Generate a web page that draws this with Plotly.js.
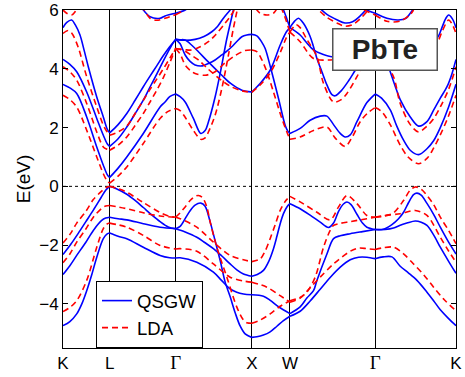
<!DOCTYPE html>
<html>
<head>
<meta charset="utf-8">
<script src="https://cdn.plot.ly/plotly-3.0.1.min.js"></script>
<style>html,body{margin:0;padding:0;background:#fff;}#chart{width:465px;height:377px;}</style>
</head>
<body>
<div id="chart"></div>
<script>
// High-symmetry points along the path (units of 2pi/a)
const kTicks = [0, 0.612, 1.478, 2.478, 2.978, 4.096, 5.157];
const kLabels = ['K', 'L', 'Γ', 'X', 'W', 'Γ', 'K'];
const eTicks = [-4, -2, 0, 2, 4, 6];

// ---------- QSGW valence bands ----------
const qV1k = [0,0.1,0.2,0.3,0.4,0.5,0.56,0.612, 0.7,0.837,0.946,1.054,1.164,1.274,1.38,1.478, 1.537,1.603,1.668,1.733,1.808,1.865,1.93,1.996,2.062,2.127,2.193,2.259,2.324,2.39,2.478, 2.544,2.63,2.718,2.807,2.893,2.978, 3.112,3.243,3.375,3.506,3.638,3.769,3.879,3.988,4.096, 4.2,4.316,4.425,4.535,4.645,4.776,4.863,4.951,5.06,5.157];
const qV1e = [-2.32,-1.98,-1.6,-1.2,-0.8,-0.38,-0.13,0, -0.08,-0.27,-0.48,-0.72,-0.97,-1.2,-1.38,-1.44, -1.36,-1.1,-0.83,-0.64,-0.57,-0.68,-1.2,-1.85,-2.52,-3.25,-3.75,-4.3,-4.75,-5.02,-5.14, -5.12,-5.06,-4.95,-4.76,-4.57,-4.42, -4.25,-3.9,-3.5,-3.1,-2.75,-2.5,-2.41,-2.41,-2.46, -2.4,-2.4,-2.72,-2.95,-3.2,-3.6,-3.89,-4.2,-4.5,-4.74];
const qV2k = [0,0.09,0.18,0.3,0.398,0.508,0.56,0.612, 0.723,0.837,1.054,1.274,1.478, 1.603,1.756,1.865,1.974,2.084,2.193,2.281,2.368,2.478, 2.55,2.63,2.7,2.762,2.807,2.85,2.893,2.938,2.978, 3.112,3.243,3.375,3.484,3.55,3.616,3.68,3.726,3.78,3.857,3.93,3.988,4.096, 4.2,4.316,4.403,4.469,4.535,4.6,4.645,4.7,4.776,4.863,4.951,5.06,5.157];
const qV2e = [-3.0,-2.7,-2.35,-1.9,-1.5,-1.16,-1.08,-1.05, -1.1,-1.14,-1.27,-1.39,-1.44, -1.55,-1.73,-1.92,-2.12,-2.37,-2.64,-2.84,-2.98,-3.06, -3.0,-2.86,-2.55,-2.12,-1.7,-1.27,-0.93,-0.7,-0.59, -0.76,-0.98,-1.22,-1.4,-1.25,-0.85,-0.6,-0.53,-0.62,-0.95,-1.25,-1.39,-1.47, -1.46,-1.3,-1.1,-0.88,-0.55,-0.28,-0.23,-0.3,-0.58,-0.95,-1.39,-1.9,-2.3];
const qV3k = [0,0.09,0.18,0.25,0.311,0.38,0.443,0.529,0.58,0.612, 0.723,0.837,1.054,1.274,1.4,1.478, 1.537,1.756,1.974,2.08,2.193,2.28,2.368,2.478, 2.63,2.72,2.807,2.89,2.978, 3.112,3.2,3.287,3.332,3.463,3.55,3.638,3.769,3.93,4.096, 4.228,4.337,4.425,4.513,4.622,4.7,4.776,4.863,4.951,5.06,5.157];
const qV3e = [-4.74,-4.6,-4.34,-3.98,-3.55,-2.98,-2.41,-1.78,-1.62,-1.59, -1.7,-1.78,-2.07,-2.35,-2.43,-2.44, -2.43,-2.58,-2.92,-3.2,-3.49,-3.6,-3.66,-3.69, -3.74,-3.88,-4.06,-4.2,-4.33, -4.1,-3.8,-3.55,-3.2,-2.3,-1.78,-1.68,-1.61,-1.54,-1.47, -1.47,-1.42,-1.32,-1.25,-1.18,-1.22,-1.33,-1.65,-2.07,-2.55,-2.96];

// ---------- QSGW conduction bands ----------
const qC1k = [0,0.09,0.18,0.311,0.443,0.529,0.58,0.612, 0.723,0.837,1.054,1.274,1.339,1.4,1.478, 1.537,1.603,1.711,1.808,1.865,1.908,1.996,2.062,2.15,2.236,2.26];
const qC1e = [3.47,3.35,3.16,2.36,1.34,0.72,0.4,0.3, 0.62,1.0,1.8,2.7,2.87,3.05,3.14, 3.05,2.87,2.31,1.8,1.9,2.19,3.04,3.84,5.03,6.0,6.3];
const qC2k = [0,0.09,0.18,0.311,0.443,0.529,0.58,0.612, 0.723,0.837,0.946,1.054,1.142,1.23,1.317,1.4,1.45,1.478];
const qC2e = [4.32,4.15,3.9,3.21,2.31,1.74,1.45,1.36, 1.62,2.02,2.47,2.93,3.38,3.82,4.27,4.68,4.9,5.0];
const qC3k = [0,0.05,0.114,0.16,0.223,0.28,0.332,0.443,0.529,0.58,0.612, 0.723,0.837,0.946,1.054,1.142,1.23,1.317,1.4,1.478];
const qC3e = [5.4,5.58,5.66,5.5,5.15,4.6,4.07,3.04,2.36,1.95,1.82, 2.1,2.48,2.93,3.39,3.75,4.1,4.45,4.75,5.0];
const qAk = [1.478,1.6,1.733,1.85,1.953,2.03,2.105,2.193,2.25];
const qAe = [5.0,4.97,5.0,5.1,5.26,5.45,5.72,6.0,6.2];
const qDk = [1.478,1.537,1.603,1.69,1.777,1.9,2.084,2.2,2.347,2.478];
const qDe = [5.0,4.99,4.98,4.8,4.58,4.25,3.78,3.5,3.27,3.21];
const qUk = [1.478,1.537,1.603,1.668,1.733,1.83,1.908,1.996,2.084,2.15,2.215,2.281,2.347,2.412,2.478];
const qUe = [5.0,4.85,4.47,4.25,4.13,4.1,4.18,4.3,4.47,4.6,4.75,4.93,5.09,5.15,5.17];
const qEk = [2.478,2.544,2.61,2.653,2.727,2.828,2.915,2.95,2.978, 3.112,3.243,3.375,3.463,3.55,3.638,3.703,3.769,3.857,3.988,4.096, 4.18,4.294,4.38,4.469,4.56,4.666,4.776,4.863,4.951,5.06,5.157];
const qEe = [5.17,5.12,4.9,4.69,4.01,2.99,2.08,1.88,1.8, 1.97,2.25,2.39,2.39,2.1,1.8,1.68,1.75,2.2,2.85,3.14, 3.0,2.6,2.05,1.57,1.22,1.08,1.28,1.55,2.0,2.7,3.47];
const qX1k = [2.478,2.587,2.718,2.85,2.93,2.978];
const qX1e = [3.21,3.5,3.95,4.81,5.25,5.4];
const qX2k = [2.87,2.893,2.94,2.978];
const qX2e = [6.1,6.0,5.68,5.4];
const qPk = [2.978,3.04,3.09,3.155,3.243,3.287,3.332,3.397,3.463,3.529,3.572,3.65,3.75,3.835,3.95,4.096];
const qPe = [5.4,5.62,5.72,5.55,5.1,4.75,4.35,3.9,3.45,3.12,3.08,3.25,3.6,3.95,4.4,5.0];
const qQk = [2.978,3.112,3.2,3.287,3.4,3.529,3.7,3.9,4.096];
const qQe = [5.4,5.15,4.88,4.64,4.5,4.41,4.5,4.75,5.0];
const qSk = [4.096,4.2,4.294,4.36,4.425,4.557,4.666,4.776,4.863,4.951,5.039,5.1,5.157];
const qSe = [5.0,4.6,3.9,3.4,2.95,2.36,2.05,2.2,2.59,3.0,3.39,3.8,4.32];
const qRk = [4.096,4.4,4.7,4.85,4.924,4.98,5.02,5.06,5.11,5.157];
const qRe = [5.0,4.7,4.7,4.85,5.1,5.45,5.7,5.83,5.7,5.4];
const qTk = [1.03,1.054,1.142,1.274,1.339,1.478,1.603,1.65];
const qTe = [6.1,6.0,5.77,5.72,5.8,5.89,6.0,6.1];
const qT2k = [3.95,4.031,4.096,4.25,4.4,4.5,4.557,4.6];
const qT2e = [6.05,5.95,5.89,5.72,5.66,5.72,5.89,6.05];
const qT3k = [3.375,3.463,3.6,3.7,3.8,3.9,3.99];
const qT3e = [6.05,5.85,5.66,5.56,5.6,5.8,6.05];

// ---------- LDA valence bands ----------
const dV1k = [0,0.1,0.18,0.3,0.398,0.5,0.56,0.612, 0.723,0.837,1.054,1.274,1.4,1.478, 1.537,1.603,1.668,1.733,1.777,1.83,1.887,1.93,2.018,2.15,2.281,2.368,2.412,2.478, 2.587,2.718,2.85,2.978, 3.112,3.2,3.309,3.419,3.506,3.55,3.638,3.769,3.988,4.096, 4.2,4.337,4.469,4.55,4.622,4.7,4.776,4.863,4.951,5.06,5.157];
const dV1e = [-1.93,-1.6,-1.25,-0.85,-0.45,-0.18,-0.05,0, -0.08,-0.2,-0.55,-0.89,-1.02,-1.05, -0.9,-0.7,-0.48,-0.34,-0.31,-0.38,-0.7,-1.2,-2.07,-3.09,-4.11,-4.55,-4.64,-4.66, -4.55,-4.34,-4.08,-3.89, -3.78,-3.6,-3.09,-2.07,-1.5,-1.33,-1.26,-1.2,-1.1,-1.05, -1.02,-0.9,-0.48,-0.15,-0.02,-0.1,-0.31,-0.62,-1.05,-1.5,-1.95];
const dV2k = [0,0.09,0.18,0.3,0.398,0.508,0.56,0.612, 0.723,0.837,1.054,1.274,1.478, 1.537,1.756,1.974,2.193,2.368,2.478, 2.587,2.653,2.718,2.785,2.85,2.92,2.978, 3.112,3.332,3.506,3.616,3.726,3.857,3.988,4.096, 4.2,4.425,4.622,4.776,4.951,5.06,5.157];
const dV2e = [-2.6,-2.3,-1.9,-1.45,-1.05,-0.75,-0.67,-0.65, -0.7,-0.76,-0.9,-1.01,-1.05, -1.1,-1.39,-1.9,-2.35,-2.5,-2.56, -2.47,-2.2,-1.78,-1.3,-0.82,-0.5,-0.34, -0.53,-0.88,-1.14,-0.7,-0.31,-0.59,-0.99,-1.05, -1.0,-0.93,-0.82,-0.99,-1.73,-2.2,-2.58];
const dV3k = [0,0.09,0.18,0.311,0.443,0.529,0.58,0.612, 0.837,1.054,1.274,1.478, 1.537,1.756,1.974,2.193,2.368,2.478, 2.675,2.85,2.978, 3.112,3.243,3.375,3.55,3.769,3.879,3.988,4.096, 4.2,4.337,4.469,4.6,4.73,4.863,5.0,5.157];
const dV3e = [-4.26,-4.12,-3.89,-3.2,-2.07,-1.44,-1.28,-1.25, -1.39,-1.67,-2.01,-2.13, -2.12,-2.21,-2.64,-3.09,-3.22,-3.26, -3.43,-3.72,-3.94, -3.8,-3.45,-3.09,-2.64,-2.21,-2.1,-2.12,-2.15, -2.09,-2.07,-2.3,-2.64,-3.0,-3.43,-3.85,-4.23];

// ---------- LDA conduction bands ----------
const dC1k = [0,0.09,0.18,0.311,0.443,0.529,0.58,0.612, 0.723,0.837,1.054,1.274,1.38,1.478, 1.537,1.603,1.711,1.808,1.865,1.908,1.996,2.084,2.171,2.236,2.281,2.3];
const dC1e = [3.1,2.95,2.7,1.91,1.0,0.43,0.18,0.11, 0.35,0.66,1.46,2.31,2.55,2.65, 2.58,2.35,1.9,1.6,1.65,1.85,2.42,3.33,4.47,5.38,5.94,6.2];
const dC2k = [0,0.09,0.18,0.311,0.443,0.529,0.58,0.612, 0.723,0.837,0.946,1.054,1.142,1.23,1.317,1.4,1.478];
const dC2e = [4.07,3.9,3.61,2.82,1.85,1.34,1.26,1.23, 1.4,1.68,2.07,2.48,2.87,3.27,3.7,4.2,4.69];
const dC3k = [0,0.066,0.118,0.197,0.311,0.443,0.529,0.58,0.612, 0.723,0.837,0.946,1.054,1.142,1.23,1.317,1.4,1.478];
const dC3e = [5.2,5.3,5.2,4.75,3.73,2.7,2.08,1.85,1.74, 1.85,2.05,2.48,2.93,3.3,3.65,4.0,4.35,4.69];
const dAk = [1.478,1.6,1.69,1.8,1.908,2.0,2.127,2.2,2.259];
const dAe = [4.69,4.65,4.64,4.75,4.92,5.15,5.55,5.8,6.05];
const dDk = [1.478,1.537,1.603,1.69,1.777,1.9,2.084,2.2,2.347,2.478];
const dDe = [4.69,4.66,4.6,4.45,4.3,4.0,3.6,3.4,3.25,3.2];
const dUk = [1.478,1.537,1.603,1.668,1.733,1.865,1.996,2.127,2.259,2.39,2.478];
const dUe = [4.69,4.5,4.13,3.95,3.84,3.78,3.9,4.2,4.45,4.62,4.64];
const dEk = [2.478,2.544,2.61,2.675,2.762,2.872,2.938,2.978, 3.112,3.287,3.463,3.57,3.703,3.8,3.9,4.0,4.096, 4.18,4.294,4.425,4.535,4.666,4.776,4.863,4.951,5.06,5.157];
const dEe = [4.64,4.58,4.3,3.9,3.21,2.31,1.85,1.6, 1.68,1.9,2.02,1.65,1.36,1.7,2.2,2.5,2.68, 2.55,2.1,1.4,0.98,0.77,0.95,1.3,1.75,2.4,3.1];
const dX1k = [2.478,2.587,2.718,2.85,2.93,2.978];
const dX1e = [3.2,3.45,3.85,4.55,5.05,5.25];
const dX2k = [2.86,2.9,2.94,2.978];
const dX2e = [6.1,5.85,5.55,5.25];
const dPk = [2.978,3.06,3.112,3.2,3.332,3.419,3.55,3.65,3.726,3.857,3.95,4.096];
const dPe = [5.25,5.5,5.4,5.0,4.41,3.5,2.87,2.95,3.16,3.73,4.2,4.69];
const dQk = [2.978,3.112,3.287,3.506,3.8,4.096];
const dQe = [5.25,4.92,4.35,4.3,4.4,4.69];
const dSk = [4.096,4.2,4.337,4.425,4.557,4.666,4.776,4.863,4.951,5.06,5.157];
const dSe = [4.69,4.3,3.73,2.82,2.1,1.85,2.05,2.3,2.7,3.3,4.07];
const dRk = [4.096,4.5,4.85,4.924,4.98,5.06,5.11,5.157];
const dRe = [4.69,4.5,4.7,4.95,5.3,5.66,5.5,5.2];
const dTk = [1.03,1.054,1.142,1.23,1.339,1.478,1.56,1.603];
const dTe = [6.15,6.05,5.72,5.65,5.72,5.84,5.95,6.05];
const dT2k = [3.95,4.096,4.25,4.425,4.557,4.6];
const dT2e = [6.0,5.83,5.62,5.62,5.85,6.0];
const dT3k = [3.375,3.463,3.6,3.7,3.8,3.9,3.99];
const dT3e = [5.95,5.75,5.55,5.45,5.5,5.7,5.95];
const dXUk = [2.53,2.587,2.675,2.762,2.807];
const dXUe = [6.05,5.89,5.83,5.89,6.05];
const dKk = [0,0.049,0.114,0.158,0.18];
const dKe = [6.0,5.89,5.83,5.94,6.05];

const qsgwBands = [[qV1k,qV1e],[qV2k,qV2e],[qV3k,qV3e],[qC1k,qC1e],[qC2k,qC2e],[qC3k,qC3e],
  [qAk,qAe],[qDk,qDe],[qUk,qUe],[qEk,qEe],[qX1k,qX1e],[qX2k,qX2e],[qPk,qPe],[qQk,qQe],
  [qSk,qSe],[qRk,qRe],[qTk,qTe],[qT2k,qT2e],[qT3k,qT3e]];
const ldaBands = [[dV1k,dV1e],[dV2k,dV2e],[dV3k,dV3e],[dC1k,dC1e],[dC2k,dC2e],[dC3k,dC3e],
  [dAk,dAe],[dDk,dDe],[dUk,dUe],[dEk,dEe],[dX1k,dX1e],[dX2k,dX2e],[dPk,dPe],[dQk,dQe],
  [dSk,dSe],[dRk,dRe],[dTk,dTe],[dT2k,dT2e],[dT3k,dT3e],[dXUk,dXUe],[dKk,dKe]];

// split a band at interior high-symmetry points so the spline does not round the kinks
function splitAtTicks(k, e) {
  const inner = kTicks.slice(1, -1);
  const segs = [];
  let cur = {x: [], y: []};
  for (let i = 0; i < k.length; i++) {
    cur.x.push(k[i]); cur.y.push(e[i]);
    const isTick = inner.some(t => Math.abs(t - k[i]) < 1e-9);
    if (isTick && i > 0 && i < k.length - 1) {
      segs.push(cur);
      cur = {x: [k[i]], y: [e[i]]};
    }
  }
  if (cur.x.length > 1) segs.push(cur);
  return segs;
}

const traces = [];
function addSeries(bands, name, color, dash) {
  let first = true;
  bands.forEach(([k, e]) => {
    splitAtTicks(k, e).forEach(s => {
      traces.push({
        x: s.x, y: s.y, type: 'scatter', mode: 'lines', name: name,
        legendgroup: name, showlegend: first, hoverinfo: 'skip',
        line: {color: color, width: 1.6, dash: dash, shape: 'spline', smoothing: 0.9}
      });
      first = false;
    });
  });
}
addSeries(qsgwBands, 'QSGW', '#0000ff', 'solid');
addSeries(ldaBands, 'LDA', '#ff0000', '6px,4px');

const font = 'Liberation Sans, Arial, Helvetica, sans-serif';
const tickText = kLabels.map(l => l === 'Γ'
  ? '<span style="font-family:Liberation Serif;font-size:19px">Γ</span>' : l);

const layout = {
  width: 465, height: 377,
  margin: {l: 63, r: 9, t: 10, b: 29},
  paper_bgcolor: '#fff', plot_bgcolor: '#fff',
  font: {family: font, color: '#000'},
  showlegend: true,
  xaxis: {
    range: [kTicks[0], kTicks[kTicks.length - 1]],
    tickvals: kTicks, ticktext: tickText,
    showgrid: true, gridcolor: '#000', gridwidth: 1,
    zeroline: false, showline: true, mirror: true, linecolor: '#000', linewidth: 1,
    ticks: '', tickfont: {family: font, size: 17, color: '#000'}
  },
  yaxis: {
    range: [-5.5, 6], tickvals: eTicks,
    showgrid: false, zeroline: false, showline: true, mirror: 'ticks',
    linecolor: '#000', linewidth: 1, ticks: 'inside', ticklen: 5, tickcolor: '#000',
    tickfont: {family: font, size: 17, color: '#000'},
    title: {text: 'E(eV)', font: {family: font, size: 19, color: '#000'}, standoff: 3}
  },
  shapes: [{type: 'line', xref: 'paper', x0: 0, x1: 1, yref: 'y', y0: 0, y1: 0,
            line: {color: '#000', width: 1, dash: 'dot'}, layer: 'below'}],
  legend: {
    x: 0.084, y: 0.198, xanchor: 'left', yanchor: 'top',
    bgcolor: '#fff', bordercolor: '#000', borderwidth: 1,
    font: {family: font, size: 18.5, color: '#000'}, tracegroupgap: 0
  },
  annotations: [{
    xref: 'paper', yref: 'paper', x: 0.8206, y: 0.8817, xanchor: 'center', yanchor: 'middle',
    text: '<b>PbTe</b>', showarrow: false,
    font: {family: font, size: 28, color: '#222'},
    bgcolor: '#fff', bordercolor: '#555', borderwidth: 1.5, borderpad: 2,
    width: 99, height: 36
  }]
};

Plotly.newPlot('chart', traces, layout, {displayModeBar: false, staticPlot: true});
</script>
</body>
</html>
